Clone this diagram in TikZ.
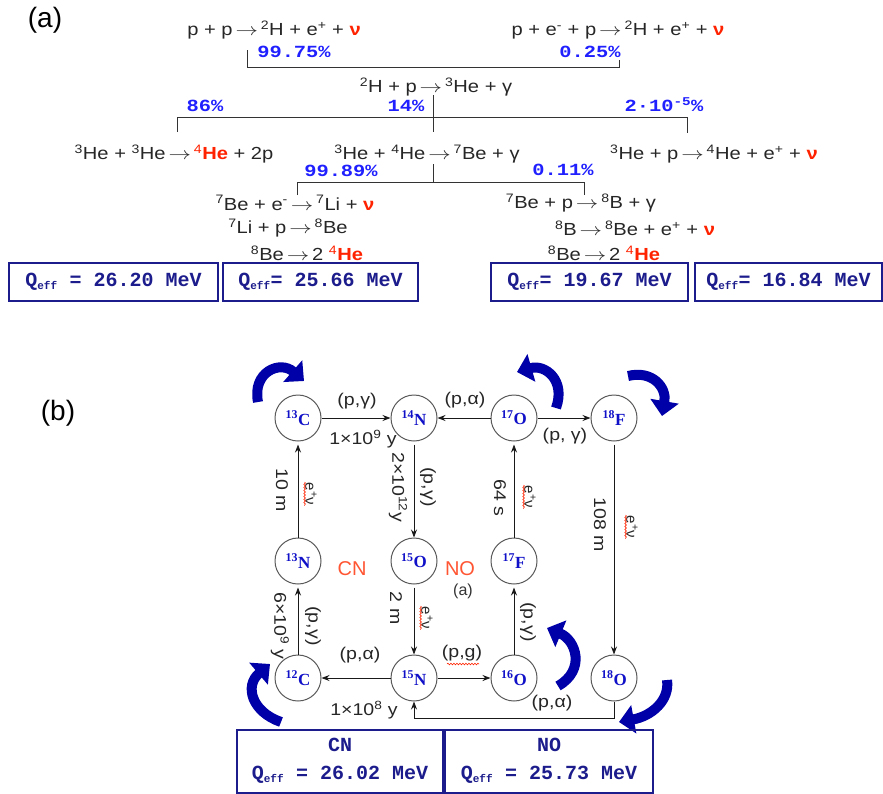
\documentclass[tikz,border=0pt]{standalone}
\usepackage{fontspec}
\setmainfont{Liberation Sans}
\newfontfamily\widesans{Liberation Sans}[FakeStretch=1.15]
\newfontfamily\monofont{Liberation Mono}
\newfontfamily\monowide{Liberation Mono}[FakeStretch=1.2]
\newfontfamily\nucfont{Liberation Serif}
\usetikzlibrary{arrows.meta,decorations.pathmorphing}

\definecolor{nured}{HTML}{FF2200}
\definecolor{pctblue}{HTML}{2020FF}
\definecolor{navy}{HTML}{1C1C8C}
\definecolor{nucblue}{HTML}{1010C8}
\definecolor{cnred}{HTML}{FF5533}
\definecolor{cycblue}{HTML}{0000A8}

\newcommand\su[1]{\textsuperscript{#1}}
\newcommand\nuR{\textcolor{nured}{\textbf{ν}}}
\newcommand\heR{\textcolor{nured}{\su{4}\textbf{He}}}
\newcommand\qeff{Q\textsubscript{\fontsize{11}{11}\selectfont eff}}
\newcommand\epnu{e\su{+}ν}
\newcommand\yields{\,\scalebox{1.3}[1]{$\rightarrow$}\,}

\tikzset{
  eq/.style={font=\widesans\fontsize{17.5}{19}\selectfont, text=black!85, inner sep=0pt},
  pct/.style={font=\monowide\bfseries\fontsize{17}{17}\selectfont, text=pctblue, inner sep=0pt},
  qbox/.style={draw=navy, line width=2pt, font=\monofont\bfseries\fontsize{20}{28}\selectfont,
    text=navy, align=center, inner sep=0pt},
  tree/.style={line width=1pt, black!80},
  nuc/.style={circle, draw=black!65, line width=1pt, minimum size=46pt, inner sep=0pt,
    font=\nucfont\bfseries\fontsize{17}{17}\selectfont, text=nucblue},
  lbl/.style={font=\widesans\fontsize{17}{19}\selectfont, text=black!85, inner sep=1pt},
  small/.style={font=\fontsize{15}{16}\selectfont, text=black!85, inner sep=0.5pt},
  flow/.style={-{Stealth[length=8pt,width=6pt]}, line width=0.9pt, black!90},
  cyc/.style={line width=10pt, draw=cycblue, -{Triangle[length=15pt,width=28pt]}},
  wavy/.style={nured, line width=0.6pt, decorate,
    decoration={snake, amplitude=0.8pt, segment length=3pt}},
  tag/.style={font=\fontsize{28}{30}\selectfont, text=black, inner sep=0pt}
}

\begin{document}
\begin{tikzpicture}[x=1pt,y=-1pt]
\useasboundingbox (0,0) rectangle (883,793);

% ---------------- (a) pp chain ----------------
\node[tag] (ta) at (45,20) {(a)};

\node[eq] (eqA1) at (274,30) {p + p\yields\su{2}H + e\su{+} + \nuR};
\node[eq] (eqA2) at (618,30) {p + e\su{-} + p\yields\su{2}H + e\su{+} + \nuR};
\node[pct] (p1) at (294,52) {99.75\%};
\node[pct] (p2) at (590,52) {0.25\%};
\coordinate (a1) at (247,50);
\coordinate (a2) at (619,60);
\draw[tree] (a1) -- (247,67) -- (619,67) -- (a2);

\node[eq] (eqB) at (436,87) {\su{2}H + p\yields\su{3}He + γ};
\node[pct] (p3) at (205,106) {86\%};
\node[pct] (p4) at (406,106) {14\%};
\node[pct] (p5) at (664,105) {2·10\su{-5}\%};

\node[eq] (eqC1) at (174,154) {\su{3}He + \su{3}He\yields\heR{} + 2p};
\node[eq] (eqC2) at (427,154) {\su{3}He + \su{4}He\yields\su{7}Be + γ};
\node[eq] (eqC3) at (714,154) {\su{3}He + p\yields\su{4}He + e\su{+} + \nuR};

\coordinate (b0) at (433,95);
\coordinate (b1) at (433,132);
\coordinate (b2) at (177,132);
\coordinate (b3) at (687,133);
\draw[tree] (b0) -- (b1);
\draw[tree] (b2) -- (177,117) -- (687,117) -- (b3);

\node[pct] (p6) at (341,171) {99.89\%};
\node[pct] (p7) at (563,170) {0.11\%};
\coordinate (c0) at (433,164);
\coordinate (c1) at (433,182);
\coordinate (c2) at (297,195);
\coordinate (c3) at (584,195);
\draw[tree] (c0) -- (c1);
\draw[tree] (c2) -- (297,182) -- (584,182) -- (c3);

\node[eq] (eqD1) at (295,203) {\su{7}Be + e\su{-}\yields\su{7}Li + \nuR};
\node[eq] (eqD2) at (288,228) {\su{7}Li + p\yields\su{8}Be};
\node[eq] (eqD3) at (307,253) {\su{8}Be\yields 2 \heR};
\node[eq] (eqE1) at (581,203) {\su{7}Be + p\yields\su{8}B + γ};
\node[eq] (eqE2) at (635,228) {\su{8}B\yields\su{8}Be + e\su{+} + \nuR};
\node[eq] (eqE3) at (604,253) {\su{8}Be\yields 2 \heR};

\node[qbox, minimum width=209pt, minimum height=38pt] (q1) at (113.5,282) {\qeff{} = 26.20 MeV};
\node[qbox, minimum width=195pt, minimum height=38pt] (q2) at (320.5,282) {\qeff= 25.66 MeV};
\node[qbox, minimum width=197pt, minimum height=38pt] (q3) at (589.5,282) {\qeff= 19.67 MeV};
\node[qbox, minimum width=187pt, minimum height=38pt] (q4) at (788.5,282) {\qeff= 16.84 MeV};

% ---------------- (b) CNO cycles ----------------
\node[tag] (tb) at (58,413) {(b)};

\node[nuc] (c13) at (298,418) {\su{13}C};
\node[nuc] (n14) at (414,418) {\su{14}N};
\node[nuc] (o17) at (514,418) {\su{17}O};
\node[nuc] (f18) at (614,418) {\su{18}F};
\node[nuc] (n13) at (298,561) {\su{13}N};
\node[nuc] (o15) at (414,561) {\su{15}O};
\node[nuc] (f17) at (514,561) {\su{17}F};
\node[nuc] (c12) at (298,678) {\su{12}C};
\node[nuc] (n15) at (414,678) {\su{15}N};
\node[nuc] (o16) at (514,678) {\su{16}O};
\node[nuc] (o18) at (614,678) {\su{18}O};

% reactions
\draw[flow] (c13) -- (n14);
\draw[flow] (o17) -- (n14);
\draw[flow] (o17) -- (f18);
\draw[flow, shorten <=3pt] (n14) -- (o15);
\draw[flow, shorten >=3pt] (n13) -- (c13);
\draw[flow, shorten >=3pt] (f17) -- (o17);
\draw[flow, shorten <=3pt] (f18) -- (o18);
\draw[flow, shorten <=3pt] (o15) -- (n15);
\draw[flow, shorten >=3pt] (c12) -- (n13);
\draw[flow] (n15) -- (c12);
\draw[flow] (n15) -- (o16);
\draw[flow, shorten >=3pt] (o16) -- (f17);
\draw[flow] (o18.south) -- ++(0,17) -| (n15.south);

% labels on horizontal reactions
\node[lbl] (l1) at (357,401) {(p,γ)};
\node[lbl] (l2) at (363,439) {1×10\su{9} y};
\node[lbl] (l3) at (465,400) {(p,α)};
\node[lbl] (l4) at (565,436) {(p, γ)};
\node[lbl] (l5) at (360,655) {(p,α)};
\node[lbl] (l6) at (364,710) {1×10\su{8} y};
\node[lbl] (l7) at (462,653) {(p,g)};
\draw[wavy] (447,664) -- (479,664);
\node[lbl] (l8) at (552,703) {(p,α)};

% labels on vertical reactions
\node[lbl, rotate=-90] (v1) at (282,490) {10 m};
\node[small, rotate=-90] (w1) at (311,494) {\epnu};
\draw[wavy] (w1.south west) -- (w1.south east);
\node[lbl, rotate=-90] (v2) at (398,487) {2×10\su{12}y};
\node[lbl, rotate=-90] (v3) at (428,487) {(p,γ)};
\node[lbl, rotate=-90] (v4) at (500,498) {64 s};
\node[small, rotate=-90] (w2) at (530,497) {\epnu};
\draw[wavy] (w2.south west) -- (w2.south east);
\node[lbl, rotate=-90] (v5) at (600,525) {108 m};
\node[small, rotate=-90] (w3) at (632,527) {\epnu};
\draw[wavy] (w3.south west) -- (w3.south east);
\node[lbl, rotate=-90] (v6) at (396,608) {2 m};
\node[small, rotate=-90] (w4) at (427,618) {\epnu};
\draw[wavy] (w4.south west) -- (w4.south east);
\node[lbl, rotate=-90] (v7) at (280,626) {6×10\su{9} y};
\node[lbl, rotate=-90] (v8) at (313,626) {(p,γ)};
\node[lbl, rotate=-90] (v9) at (528,622) {(p,γ)};

% cycle names
\node[font=\fontsize{20}{22}\selectfont, text=cnred, inner sep=0pt] (cn) at (352,569) {CN};
\node[font=\fontsize{20}{22}\selectfont, text=cnred, inner sep=0pt] (no) at (460,569) {NO};
\node[font=\fontsize{16}{18}\selectfont, text=black!80, inner sep=0pt] (na) at (463,591) {(a)};

% circulation arrows
\draw[cyc] (258,402) .. controls (252,372) and (280,360) .. (304,381);
\draw[cyc] (556,408) .. controls (566,380) and (545,364) .. (517,372);
\draw[cyc] (628,376) .. controls (652,370) and (667,387) .. (662,416);
\draw[cyc] (281,722) .. controls (252,712) and (244,686) .. (270,664);
\draw[cyc] (558,686) .. controls (586,670) and (576,640) .. (547,628);
\draw[cyc] (667,680) .. controls (670,700) and (652,716) .. (619,722);

% totals
\node[qbox, minimum width=206pt, minimum height=63pt] (qcn) at (340,761) {CN\\\qeff{} = 26.02 MeV};
\node[qbox, minimum width=208pt, minimum height=63pt] (qno) at (549,761) {NO\\\qeff{} = 25.73 MeV};
\end{tikzpicture}
\end{document}
